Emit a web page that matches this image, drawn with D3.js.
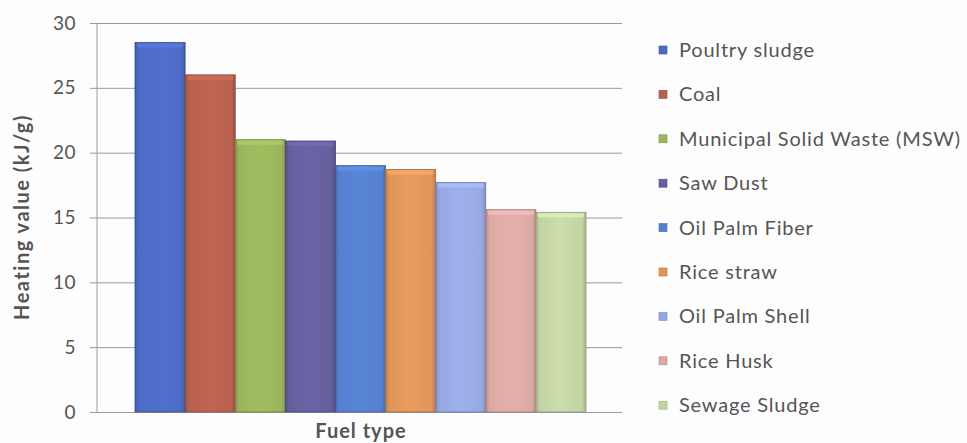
<!DOCTYPE html>
<html>
<head>
<meta charset="utf-8">
<script src="https://cdn.jsdelivr.net/npm/d3@7"></script>
<style>
  html, body { margin: 0; padding: 0; background: #fdfdfd; }
  svg { display: block; }
  text { font-family: Lato, "Open Sans", sans-serif; fill: #555; }
</style>
</head>
<body>
<svg id="chart" width="967" height="443"></svg>
<script>
// Heating value of various fuels
const fuels = ["Poultry sludge", "Coal", "Municipal Solid Waste (MSW)", "Saw Dust",
               "Oil Palm Fiber", "Rice straw", "Oil Palm Shell", "Rice Husk", "Sewage Sludge"];
const heatingValues = [28.5, 26, 21, 20.9, 19, 18.7, 17.7, 15.6, 15.4];
const fuelColors = ["#4d6bc5", "#b8614f", "#9bb55c", "#665f9e", "#5680cf",
                    "#e0955a", "#97a9e2", "#dba9a5", "#c3d4a4"];
const yTicks = [0, 5, 10, 15, 20, 25, 30];

const svg = d3.select("#chart");
const plot = { left: 97, right: 622, top: 23, bottom: 412 };

const y = d3.scaleLinear().domain([0, 30]).range([plot.bottom, plot.top]);
const x = d3.scaleBand().domain(fuels)
  .range([plot.left + 38, plot.right - 36]).paddingInner(0).paddingOuter(0);

// bevel gradients per bar colour
const defs = svg.append("defs");
fuelColors.forEach((c, i) => {
  const g = defs.append("linearGradient").attr("id", "bev" + i)
    .attr("x1", 0).attr("x2", 1).attr("y1", 0).attr("y2", 0);
  const dark = d3.color(c).darker(0.5).formatHex();
  const light = d3.color(c).brighter(0.12).formatHex();
  g.append("stop").attr("offset", 0).attr("stop-color", dark);
  g.append("stop").attr("offset", 0.08).attr("stop-color", c);
  g.append("stop").attr("offset", 0.5).attr("stop-color", light);
  g.append("stop").attr("offset", 0.92).attr("stop-color", c);
  g.append("stop").attr("offset", 1).attr("stop-color", dark);
});

// gridlines + tick labels
const axis = svg.append("g")
  .attr("transform", `translate(${plot.left - 7},0)`)
  .call(d3.axisLeft(y).tickValues(yTicks).tickSize(-(plot.right - plot.left + 7)).tickPadding(14));
axis.select(".domain").remove();
axis.selectAll(".tick line").attr("stroke", "#9a9a9a").attr("stroke-width", 1);
axis.selectAll(".tick text").attr("fill", "#555").style("font-size", "19px")
  .style("letter-spacing", "0.5px")
  .style("font-family", "Lato, 'Open Sans', sans-serif");

// vertical axis line
svg.append("line")
  .attr("x1", plot.left).attr("x2", plot.left)
  .attr("y1", y(30)).attr("y2", y(0))
  .attr("stroke", "#9a9a9a");

// bars
const bars = svg.append("g").selectAll("g.bar")
  .data(fuels.map((f, i) => ({ f, v: heatingValues[i], i })))
  .join("g").attr("class", "bar");

bars.append("rect")
  .attr("x", d => x(d.f))
  .attr("y", d => y(d.v))
  .attr("width", x.bandwidth())
  .attr("height", d => y(0) - y(d.v))
  .attr("fill", d => `url(#bev${d.i})`)
  .attr("stroke", d => d3.color(fuelColors[d.i]).darker(0.9).formatHex())
  .attr("stroke-width", 0.8);

// top bevel highlight
bars.append("rect")
  .attr("x", d => x(d.f) + 2)
  .attr("y", d => y(d.v) + 1)
  .attr("width", x.bandwidth() - 4)
  .attr("height", 4)
  .attr("fill", d => d3.color(fuelColors[d.i]).brighter(0.35).formatHex())
  .attr("opacity", 0.8);

// axis titles
svg.append("text")
  .attr("transform", `translate(29,217) rotate(-90)`)
  .attr("text-anchor", "middle")
  .style("font-size", "20px").style("font-weight", "bold")
  .style("letter-spacing", "1.5px")
  .text("Heating value (kJ/g)");

svg.append("text")
  .attr("x", 361).attr("y", 438)
  .attr("text-anchor", "middle")
  .style("font-size", "20px").style("font-weight", "bold")
  .style("letter-spacing", "1px")
  .text("Fuel type");

// legend
const legend = svg.append("g").attr("transform", "translate(659,0)");
const items = legend.selectAll("g")
  .data(fuels.map((f, i) => ({ f, i })))
  .join("g")
  .attr("transform", d => `translate(0,${50 + d.i * 44.4})`);

items.append("rect")
  .attr("x", 0).attr("y", -4).attr("width", 8).attr("height", 8)
  .attr("fill", d => fuelColors[d.i])
  .attr("stroke", d => d3.color(fuelColors[d.i]).darker(0.6).formatHex())
  .attr("stroke-width", 0.6);

items.append("text")
  .attr("x", 20).attr("y", 0).attr("dy", "0.35em")
  .style("font-size", "20px")
  .style("letter-spacing", "0.8px")
  .text(d => d.f);
</script>
</body>
</html>
